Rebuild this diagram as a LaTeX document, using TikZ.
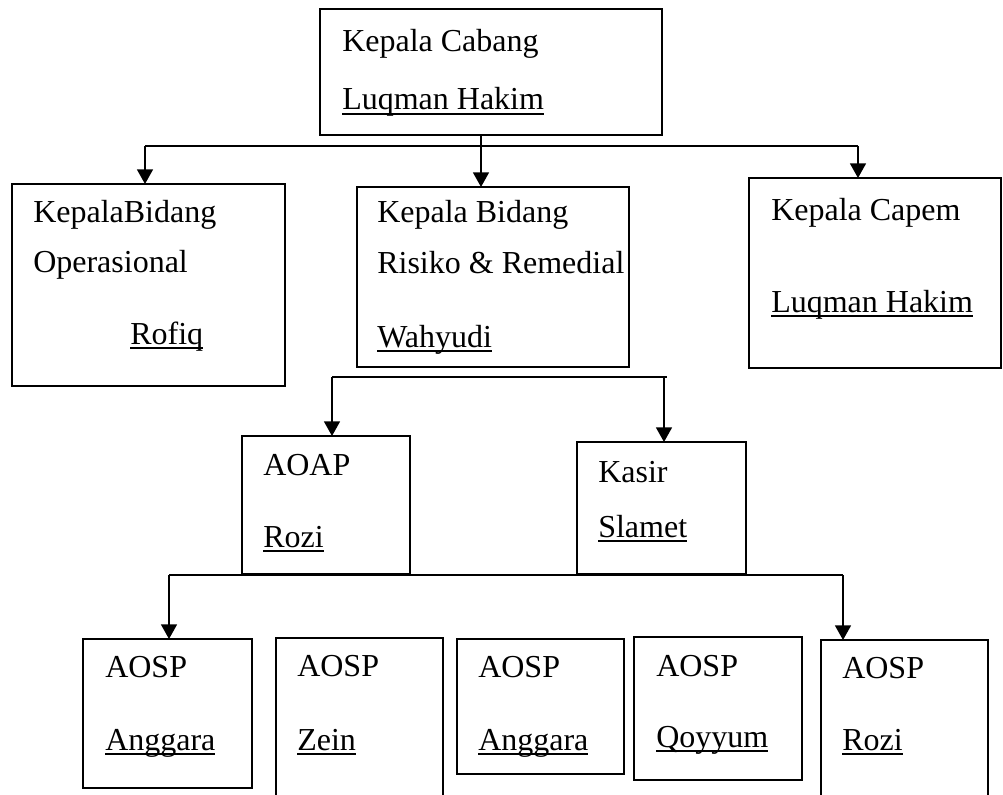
\documentclass[tikz,border=0pt]{standalone}
\usepackage{fontspec}
\setmainfont{Liberation Serif}
\usetikzlibrary{arrows.meta,fit}
\newcommand{\myul}[1]{\setbox0\hbox{#1}\rlap{\vrule height -2.3pt depth 3.8pt width \wd0}\box0}
\tikzset{
  unitbox/.style={draw, line width=1.2pt, inner sep=0pt, outer sep=0pt, rectangle},
  lbl/.style={anchor=base west, inner sep=0pt, font=\fontsize{24}{28}\selectfont},
  conn/.style={line width=1.2pt},
  arr/.style={line width=1.2pt, -{Triangle[width=12pt,length=11pt]}}
}
\begin{document}
\begin{tikzpicture}[x=0.75pt,y=-0.75pt]
\useasboundingbox (0,0) rectangle (1003,795);
\clip (0,0) rectangle (1003,795);
% boxes
\node[unitbox, fit={(320,9) (662,135)}] (kc) {};
\node[unitbox, fit={(12,184) (285,386)}] (ko) {};
\node[unitbox, fit={(357,187) (629,367)}] (kbr) {};
\node[unitbox, fit={(749,178) (1001,368)}] (kcp) {};
\node[unitbox, fit={(242,436) (410,574)}] (aoap) {};
\node[unitbox, fit={(577,442) (746,574)}] (kasir) {};
\node[unitbox, fit={(83,639) (252,788)}] (s1) {};
\node[unitbox, fit={(276,638) (443,812)}] (s2) {};
\node[unitbox, fit={(457,639) (624,774)}] (s3) {};
\node[unitbox, fit={(634,637) (802,780)}] (s4) {};
\node[unitbox, fit={(821,640) (988,812)}] (s5) {};
% texts
\node[lbl] (t1) at (342,52) {Kepala Cabang};
\node[lbl] (t2) at (342,110) {\myul{Luqman Hakim}};
\node[lbl] (t3) at (33,223) {KepalaBidang};
\node[lbl] (t4) at (33,272) {Operasional};
\node[lbl] (t5) at (130,344) {\myul{Rofiq}};
\node[lbl] (t6) at (377,223) {Kepala Bidang};
\node[lbl] (t7) at (377,273) {Risiko \& Remedial};
\node[lbl] (t8) at (377,347) {\myul{Wahyudi}};
\node[lbl] (t9) at (771,220) {Kepala Capem};
\node[lbl] (t10) at (771,312) {\myul{Luqman Hakim}};
\node[lbl] (t11) at (263,475) {AOAP};
\node[lbl] (t12) at (263,547) {\myul{Rozi}};
\node[lbl] (t13) at (598,482) {Kasir};
\node[lbl] (t14) at (598,537) {\myul{Slamet}};
\node[lbl] (t15) at (105,677) {AOSP};
\node[lbl] (t16) at (105,750) {\myul{Anggara}};
\node[lbl] (t17) at (297,676) {AOSP};
\node[lbl] (t18) at (297,750) {\myul{Zein}};
\node[lbl] (t19) at (478,677) {AOSP};
\node[lbl] (t20) at (478,750) {\myul{Anggara}};
\node[lbl] (t21) at (656,676) {AOSP};
\node[lbl] (t22) at (656,747) {\myul{Qoyyum}};
\node[lbl] (t23) at (842,678) {AOSP};
\node[lbl] (t24) at (842,750) {\myul{Rozi}};
% level 1 connectors
\coordinate (b1L) at (145,146);
\coordinate (b1M) at (481,146);
\coordinate (b1R) at (858,146);
\draw[conn] (b1L) -- (b1R);
\draw[arr] (kc.south -| b1M) -- (b1M |- kbr.north);
\draw[arr] (b1L) -- (b1L |- ko.north);
\draw[arr] (b1R) -- (b1R |- kcp.north);
% level 2 connectors
\coordinate (b2L) at (332,377);
\coordinate (b2R) at (664,377);
\coordinate (b2E) at (667,377);
\draw[conn] (b2L) -- (b2E);
\draw[arr] (b2L) -- (b2L |- aoap.north);
\draw[arr] (b2R) -- (b2R |- kasir.north);
% level 3 connectors
\coordinate (b3L) at (169,575);
\coordinate (b3R) at (843,575);
\draw[conn] (b3L) -- (b3R);
\draw[arr] (b3L) -- (b3L |- s1.north);
\draw[arr] (b3R) -- (b3R |- s5.north);
\end{tikzpicture}
\end{document}
